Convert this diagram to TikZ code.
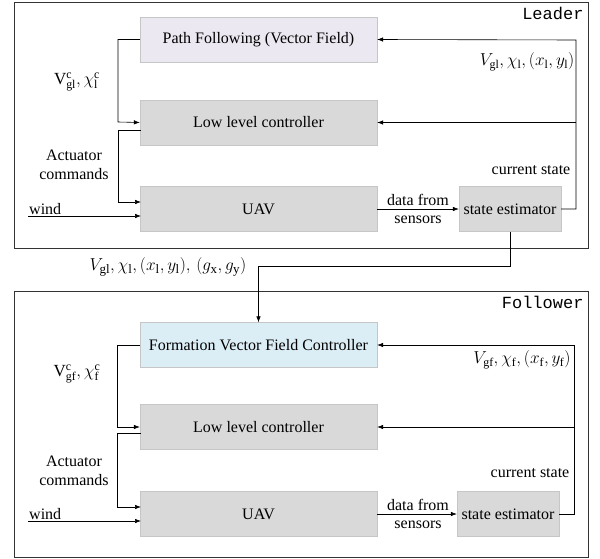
\documentclass[tikz,border=0pt]{standalone}
\usepackage{fontspec}
\setmainfont{LiberationSerif}[Extension=.ttf,UprightFont=*-Regular,BoldFont=*-Bold,ItalicFont=*-Italic,BoldItalicFont=*-BoldItalic]
\setmonofont{LiberationMono}[Extension=.ttf,UprightFont=*-Regular,BoldFont=*-Bold,ItalicFont=*-Italic,BoldItalicFont=*-BoldItalic]
\usetikzlibrary{arrows.meta}
\definecolor{boxgray}{HTML}{D9D9D9}
\definecolor{boxlav}{HTML}{ECE8F1}
\definecolor{boxblue}{HTML}{DCEEF5}
\definecolor{edgegray}{HTML}{C6C6C6}
\begin{document}
\begin{tikzpicture}
        [x=1pt,y=-1pt,
        every node/.style={font=\fontsize{16}{18.5}\selectfont},
        block/.style={rectangle,fill=boxgray,draw=edgegray,minimum width=237pt,minimum height=45pt,inner sep=0pt},
        estbox/.style={block,minimum width=102pt},
        frame/.style={draw=black!80,thick},
        wire/.style={draw=black,semithick},
        arr/.style={wire,-{Latex[length=6pt,width=4.5pt]}},
        mlabel/.style={font=\fontsize{17}{19}\selectfont},
        ]
        \useasboundingbox (0,0) rectangle (600,559);
        % leader
        \draw[frame] (14,2) rectangle (588,248);
        \node[anchor=north east,font=\fontsize{17}{19}\ttfamily] (leader) at (587,4) {Leader};
        \node[block,fill=boxlav] (pf) at (258.5,39.5) {Path Following (Vector Field)};
        \node[block] (llc) at (258.5,122.5) {Low level controller};
        \node[block] (uav) at (258.5,209) {UAV};
        \node[estbox] (est) at (510,209) {state estimator};
        \coordinate (wl) at (28,216);
        \node[mlabel,inner sep=0pt] (vlc) at (77,82) {$\mathrm{V}^{\mathrm{c}}_{\mathrm{gl}},\chi^{\mathrm{c}}_{\mathrm{l}}$};
        \node[align=center,inner sep=0pt] (actl) at (74,165) {Actuator\\commands};
        \node[anchor=south west,inner sep=1pt] (windl) at (wl) {wind};
        \node[mlabel] (statel) at (527,62) {$V_{\mathrm{gl}},\chi_{\mathrm{l}},(x_{\mathrm{l}},y_{\mathrm{l}})$};
        \node (curl) at (531,170) {current state};
        \node[align=center,inner sep=0pt] (datal) at (418,209) {data from\\sensors};
        \draw[arr] (pf.west) -| (118,122) -- (llc.west);
        \draw[arr] (141,130) -| (118,202) -- (141,202);
        \draw[arr] (wl) -- (141,216);
        \draw[arr] (uav.east) -- (est.west);
        \draw[arr] (est.east) -| (576,40) -- (pf.east);
        \draw[arr] (576,122.5) -- (llc.east);
        % link leader -> follower
        \node[font=\fontsize{18.5}{20}\selectfont] (link) at (168,267) {$V_{\mathrm{gl}},\chi_{\mathrm{l}},(x_{\mathrm{l}},y_{\mathrm{l}}),\,(g_{\mathrm{x}},g_{\mathrm{y}})$};
        % follower
        \draw[frame] (14,291) rectangle (588,557);
        \node[anchor=north east,font=\fontsize{17}{19}\ttfamily] (follower) at (587,293) {Follower};
        \node[block,fill=boxblue] (fvf) at (258.5,345) {Formation Vector Field Controller};
        \node[block] (llcf) at (258.5,427) {Low level controller};
        \node[block] (uavf) at (258.5,514) {UAV};
        \node[estbox] (estf) at (508,514) {state estimator};
        \coordinate (wf) at (28,521);
        \node[mlabel,inner sep=0pt] (vfc) at (77,374) {$\mathrm{V}^{\mathrm{c}}_{\mathrm{gf}},\chi^{\mathrm{c}}_{\mathrm{f}}$};
        \node[align=center,inner sep=0pt] (actf) at (74,471) {Actuator\\commands};
        \node[anchor=south west,inner sep=1pt] (windf) at (wf) {wind};
        \node[mlabel] (statef) at (522,360) {$V_{\mathrm{gf}},\chi_{\mathrm{f}},(x_{\mathrm{f}},y_{\mathrm{f}})$};
        \node (curf) at (530,473) {current state};
        \node[align=center,inner sep=0pt] (dataf) at (418,514) {data from\\sensors};
        \draw[arr] (fvf.west) -| (117,427) -- (llcf.west);
        \draw[arr] (141,433) -| (117,507) -- (141,507);
        \draw[arr] (wf) -- (141,521);
        \draw[arr] (uavf.east) -- (estf.west);
        \draw[arr] (estf.east) -| (574,345) -- (fvf.east);
        \draw[arr] (574,427) -- (llcf.east);
        \draw[arr] (est.south) |- (258.5,266) -- (fvf.north);
        \end{tikzpicture}
\end{document}
